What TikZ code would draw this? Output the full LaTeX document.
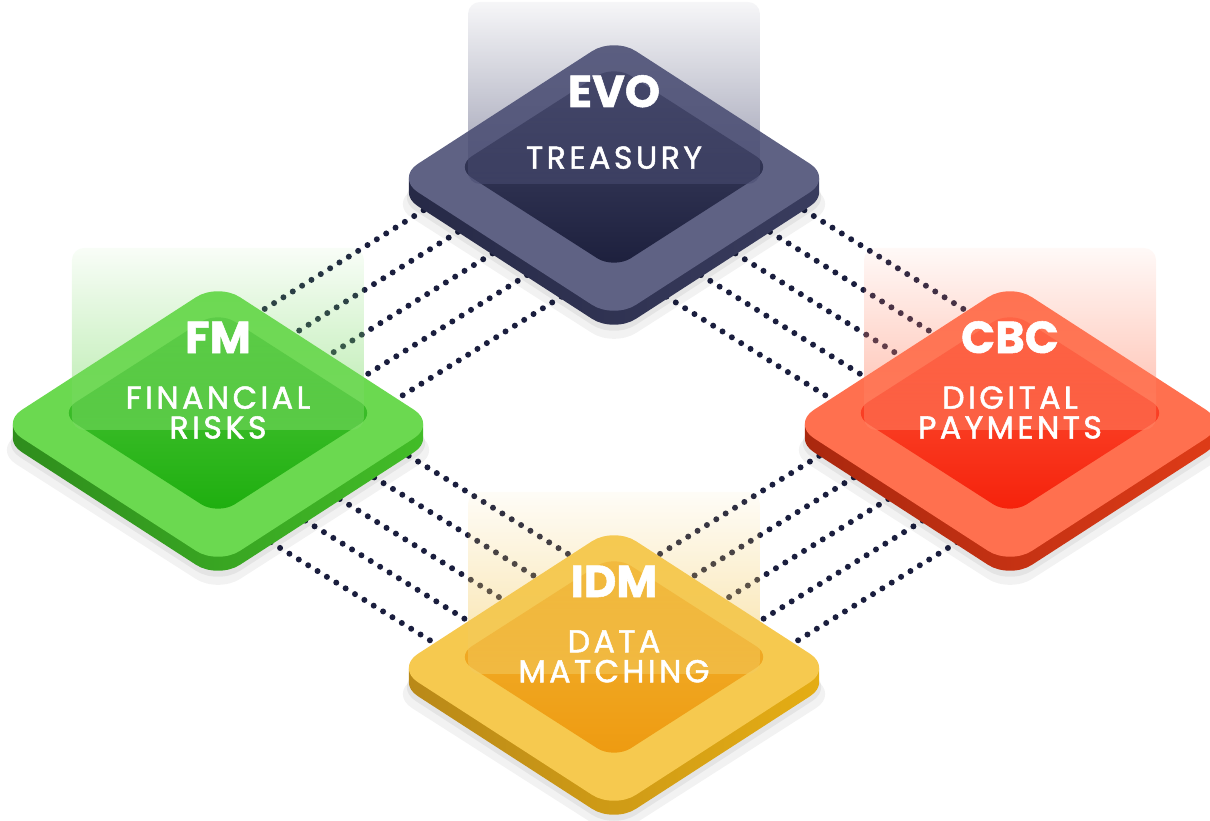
\documentclass[tikz,border=0pt]{standalone}
\usepackage{fontspec}
\setmainfont{Poppins}
\newfontfamily\titlefont{Poppins}[BoldFeatures={FakeBold=1.2}]
\newfontfamily\subfont{Poppins}[LetterSpace=11,FakeBold=1.6]
\usetikzlibrary{calc,fadings}

% tile colours
\definecolor{evoband}{HTML}{5F6284}
\definecolor{evotop}{HTML}{45486A}
\definecolor{evobot}{HTML}{1C1F3C}
\definecolor{evosidel}{HTML}{262946}
\definecolor{evosider}{HTML}{3A3D5F}
\definecolor{evoglass}{HTML}{4A4D72}
\definecolor{fmband}{HTML}{6BD950}
\definecolor{fmtop}{HTML}{55C940}
\definecolor{fmbot}{HTML}{1DAE0E}
\definecolor{fmsidel}{HTML}{2E8C1C}
\definecolor{fmsider}{HTML}{43BE28}
\definecolor{fmglass}{HTML}{7ADA64}
\definecolor{cbcband}{HTML}{FF704F}
\definecolor{cbctop}{HTML}{FF5D3E}
\definecolor{cbcbot}{HTML}{F5200A}
\definecolor{cbcsidel}{HTML}{A8270E}
\definecolor{cbcsider}{HTML}{E03C18}
\definecolor{cbcglass}{HTML}{FF8263}
\definecolor{idmband}{HTML}{F6C94F}
\definecolor{idmtop}{HTML}{F2B635}
\definecolor{idmbot}{HTML}{EE9A10}
\definecolor{idmsidel}{HTML}{B88818}
\definecolor{idmsider}{HTML}{E6AE14}
\definecolor{idmglass}{HTML}{F3CA5E}
\definecolor{dotcol}{HTML}{1A1E3E}

\tikzfading[name=glassfade, top color=transparent!95, bottom color=transparent!45]

\tikzset{
  dotline/.style={dotcol, line width=0.12cm, line cap=round, dash pattern=on 0pt off 0.22cm},
  tiletitle/.style={white, anchor=base, inner sep=0pt, font=\fontsize{25.5pt}{27pt}\selectfont\titlefont\bfseries},
  tilesub/.style={white, anchor=north, inner sep=0pt, align=center, font=\fontsize{18pt}{17pt}\selectfont\subfont}
}

% one tile: centre name, title, subtitle, subtitle top
\newcommand{\tile}[4]{%
  \begin{scope}[shift={(#1)}]
    % shadow
    \fill[black, opacity=0.05, rounded corners=0.52cm] (-224,26) -- (0,-117) -- (224,26) -- (0,169) -- cycle;
    \fill[black, opacity=0.06, rounded corners=0.52cm] (-220,19) -- (0,-124) -- (220,19) -- (0,161) -- cycle;
    % side
    \shade[left color=#1sidel, right color=#1sider, rounded corners=0.52cm]
      \foreach \s in {2,4,...,14} {(-218,\s) -- (0,-141+\s) -- (218,\s) -- (0,141+\s) -- cycle};
    % top face
    \fill[#1band, rounded corners=0.52cm] (-218,0) -- (0,-141) -- (218,0) -- (0,141) -- cycle;
    \shade[top color=#1top, bottom color=#1bot, rounded corners=0.4cm] (-159,-11) -- (0,-113) -- (159,-11) -- (0,91) -- cycle;
    % glass
    \fill[#1glass, path fading=glassfade, rounded corners=0.24cm] (-146,-176) -- (-146,6) -- (146,6) -- (146,-176) -- cycle;
    \node[tiletitle] (#1-title) at (0,-71) {#2};
    \node[tilesub] (#1-sub) at (0,#4) {#3};
  \end{scope}}

\begin{document}
\begin{tikzpicture}[x=0.02cm, y=-0.02cm]
  \useasboundingbox (0,0) rectangle (1210,821);
  \coordinate (evo) at (614,178);
  \coordinate (fm) at (218,424);
  \coordinate (cbc) at (1010,424);
  \coordinate (idm) at (614,668);

  % links
  \foreach \k in {-2,...,2} {
    \draw[dotline] ($(evo)+({34.5*\k},{21.6*\k})$) -- ($(fm)+({34.5*\k},{21.6*\k})$);
    \draw[dotline] ($(evo)+({-34.5*\k},{21.6*\k})$) -- ($(cbc)+({-34.5*\k},{21.6*\k})$);
    \draw[dotline] ($(fm)+({-34.5*\k},{21.6*\k})$) -- ($(idm)+({-34.5*\k},{21.6*\k})$);
    \draw[dotline] ($(cbc)+({34.5*\k},{21.6*\k})$) -- ($(idm)+({34.5*\k},{21.6*\k})$);
  }

  \tile{evo}{EVO}{TREASURY}{-32}
  \tile{fm}{FM}{FINANCIAL\\RISKS}{-38}
  \tile{cbc}{CBC}{DIGITAL\\PAYMENTS}{-38}
  \tile{idm}{IDM}{DATA\\MATCHING}{-38}
\end{tikzpicture}
\end{document}
